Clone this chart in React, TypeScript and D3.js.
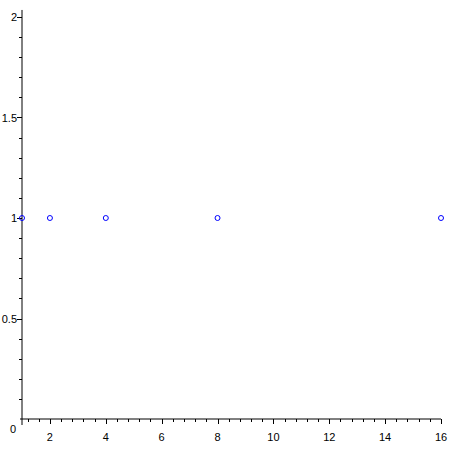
import React, { useEffect, useRef } from "react";
import * as d3 from "d3";

// points
const xValues = [1, 2, 4, 8, 16];
const yValues = [1, 1, 1, 1, 1];

const xMajorTicks = [2, 4, 6, 8, 10, 12, 14, 16];
const yMajorTicks = [0.5, 1, 1.5, 2];

const App = () => {
  const ref = useRef<SVGSVGElement>(null);

  useEffect(() => {
    const svg = d3.select(ref.current);
    svg.selectAll("*").remove();

    const x = d3.scaleLinear().domain([1, 16]).range([22, 441]);
    const y = d3.scaleLinear().domain([0, 2]).range([419, 17]);

    const font = "'Liberation Sans', Arial, sans-serif";

    // x axis line
    svg
      .append("line")
      .attr("x1", x(1) - 2)
      .attr("x2", x(16))
      .attr("y1", y(0))
      .attr("y2", y(0))
      .style("stroke", "black")
      .style("stroke-width", 1);

    // y axis line
    svg
      .append("line")
      .attr("x1", x(1))
      .attr("x2", x(1))
      .attr("y1", y(0) + 6)
      .attr("y2", y(2.035))
      .style("stroke", "black")
      .style("stroke-width", 1);

    // x ticks, minor every 0.4
    const xMinor = d3.range(1.2, 16.01, 0.4);
    svg
      .append("g")
      .selectAll("line")
      .data(xMinor)
      .join("line")
      .attr("x1", (d) => Math.round(x(d)) + 0.5)
      .attr("x2", (d) => Math.round(x(d)) + 0.5)
      .attr("y1", y(0))
      .attr("y2", (d) => y(0) + (xMajorTicks.some((t) => Math.abs(t - d) < 1e-6) ? 5 : 3))
      .style("stroke", "black")
      .style("stroke-width", 1);

    svg
      .append("g")
      .selectAll("text")
      .data(xMajorTicks)
      .join("text")
      .attr("x", (d) => x(d))
      .attr("y", y(0) + 22)
      .style("font-family", font)
      .style("font-size", "11px")
      .style("text-anchor", "middle")
      .text((d) => d);

    // y ticks, minor every 0.1
    const yMinor = d3.range(0.1, 2.001, 0.1);
    svg
      .append("g")
      .selectAll("line")
      .data(yMinor)
      .join("line")
      .attr("x1", x(1))
      .attr("x2", (d) => x(1) - (yMajorTicks.some((t) => Math.abs(t - d) < 1e-6) ? 5 : 3))
      .attr("y1", (d) => Math.round(y(d)) + 0.5)
      .attr("y2", (d) => Math.round(y(d)) + 0.5)
      .style("stroke", "black")
      .style("stroke-width", 1);

    svg
      .append("g")
      .selectAll("text")
      .data(yMajorTicks)
      .join("text")
      .attr("x", x(1) - 5)
      .attr("y", (d) => y(d) + 4)
      .style("font-family", font)
      .style("font-size", "11px")
      .style("text-anchor", "end")
      .text((d) => d);

    svg
      .append("text")
      .attr("x", 16)
      .attr("y", y(0) + 14)
      .style("font-family", font)
      .style("font-size", "11px")
      .style("text-anchor", "end")
      .text("0");

    // points
    svg
      .append("g")
      .selectAll("circle")
      .data(xValues.map((v, i) => [v, yValues[i]]))
      .join("circle")
      .attr("cx", (d) => x(d[0]))
      .attr("cy", (d) => y(d[1]))
      .attr("r", 2.5)
      .style("fill", "none")
      .style("stroke", "#0000ff")
      .style("stroke-width", 1);
  }, []);

  return (
    <svg
      ref={ref}
      width={450}
      height={450}
      style={{ position: "absolute", left: 0, top: 0, background: "white" }}
    />
  );
};

export default App;
